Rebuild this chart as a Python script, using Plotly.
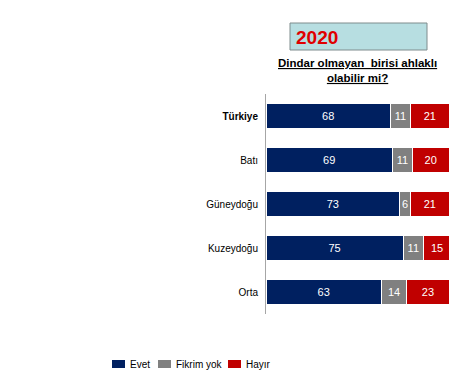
import plotly.graph_objects as go

regions = ["Türkiye", "Batı", "Güneydoğu", "Kuzeydoğu", "Orta"]
tick_labels = ["<b>Türkiye</b>", "Batı", "Güneydoğu", "Kuzeydoğu", "Orta"]
evet = [68, 69, 73, 75, 63]
fikrim_yok = [11, 11, 6, 11, 14]
hayir = [21, 20, 21, 15, 23]

series = [("Evet", evet, "#002060"), ("Fikrim yok", fikrim_yok, "#808080"), ("Hayır", hayir, "#C00000")]

fig = go.Figure()
for name, vals, col in series:
    fig.add_trace(go.Bar(
        y=regions, x=vals, name=name, orientation="h",
        marker=dict(color=col, line=dict(color="white", width=1)),
        text=[str(v) for v in vals], textposition="inside", insidetextanchor="middle",
        constraintext="none",
        textfont=dict(color="white", size=11, family="Arial"),
        hoverinfo="skip", showlegend=False,
    ))

W, H = 474, 376
L, R, T, B = 266, 25, 94, 62
pw, ph = W - L - R, H - T - B

def px(x):
    return (x - L) / pw

def py(y):
    return (H - B - y) / ph

shapes = [dict(type="rect", xref="paper", yref="paper",
               x0=px(290), x1=px(427), y0=py(50), y1=py(23),
               fillcolor="#B7DEE1", line=dict(color="#7F8C8D", width=1))]
annotations = [
    dict(xref="paper", yref="paper", x=px(294), y=py(38), xanchor="left", yanchor="middle",
         text="<b>2020</b>", showarrow=False,
         font=dict(color="#E00000", size=19, family="Arial")),
    dict(xref="paper", yref="paper", x=px(357), y=py(70), xanchor="center", yanchor="middle",
         text="<b><u>Dindar olmayan  birisi ahlaklı</u></b><br><b><u>olabilir mi?</u></b>",
         showarrow=False, align="center",
         font=dict(color="black", size=11.5, family="Arial")),
]

# manual legend
legend_x = [112, 158, 228]
for (name, vals, col), lx in zip(series, legend_x):
    shapes.append(dict(type="rect", xref="paper", yref="paper",
                       x0=px(lx), x1=px(lx + 13), y0=py(368), y1=py(360),
                       fillcolor=col, line=dict(width=0)))
    annotations.append(dict(xref="paper", yref="paper", x=px(lx + 16), y=py(364.5),
                            xanchor="left", yanchor="middle", text=name, showarrow=False,
                            font=dict(color="black", size=10, family="Arial")))

fig.update_layout(
    width=W, height=H, barmode="stack", bargap=0.44,
    margin=dict(l=L, r=R, t=T, b=B, autoexpand=False),
    paper_bgcolor="white", plot_bgcolor="white",
    font=dict(family="Arial", size=10, color="black"),
    xaxis=dict(range=[0, 100], visible=False),
    yaxis=dict(categoryorder="array", categoryarray=regions, autorange="reversed",
               tickmode="array", tickvals=regions, ticktext=tick_labels,
               showline=True, linecolor="#A6A6A6", linewidth=1, ticks="", ticklen=0,
               showgrid=False, zeroline=False, tickfont=dict(size=10, family="Arial"),
               ticklabelstandoff=5, automargin=False),
    showlegend=False,
    shapes=shapes,
    annotations=annotations,
)

fig.write_html("out.html", config={"displayModeBar": False},
               post_script="document.body.style.margin='0';document.body.style.padding='0';")
